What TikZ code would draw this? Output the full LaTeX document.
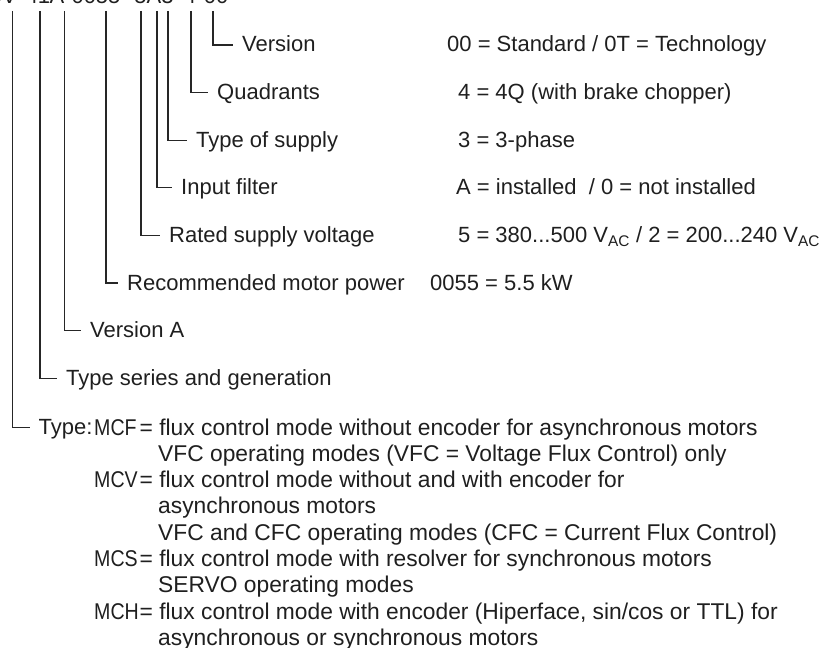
\documentclass[tikz,border=0pt]{standalone}
\usepackage{fontspec}
\setmainfont{Liberation Sans}
\usetikzlibrary{positioning}

\newcommand{\narrow}[1]{\scalebox{0.86}[1]{#1}}

\begin{document}
\begin{tikzpicture}[x=1pt, y=-1pt
    , every node/.style={inner sep=0pt, text=black!88
        , font=\fontsize{22}{26.8}\selectfont}
    , lbl/.style={anchor=west, text height=16pt, text depth=2pt}
    , row/.style={anchor=base west, font=\fontsize{22.8}{26.3}\selectfont}
    , tick/.style={line width=1.1pt, black!85}
    ]
    \useasboundingbox (0,0) rectangle (826,647);

    % The code string, only its lower edge stays on the page
    \node[anchor=base east] (cType) at (17,4) {MCV};
    \node[anchor=base] (cSer) at (38,4) {41};
    \node[anchor=base] (cVerA) at (57,4) {A};
    \node[anchor=base] (cPow) at (96,4) {0055};
    \node[anchor=base] (cSup) at (154,4) {5A3};
    \node[anchor=base] (cQuad) at (190,4) {4};
    \node[anchor=base] (cVer) at (216,4) {00};

    % tops of the hooks
    \coordinate (tType) at (12.5,11);
    \coordinate (tSer) at (40,11);
    \coordinate (tVerA) at (64.5,11);
    \coordinate (tPow) at (106,11);
    \coordinate (tVolt) at (141,11);
    \coordinate (tFilt) at (157,11);
    \coordinate (tSup) at (168,11);
    \coordinate (tQuad) at (191,11);
    \coordinate (tVer) at (213,11);

    %% What each position means
    \node[lbl] (lVer) at (242,45) {Version};
    \node[lbl] (lQuad) at (217,92.6) {Quadrants};
    \node[lbl] (lSup) at (196,140.2) {Type of supply};
    \node[lbl] (lFilt) at (181,187.8) {Input filter};
    \node[lbl] (lVolt) at (169,235.4) {Rated supply voltage};
    \node[lbl] (lPow) at (127,283) {Recommended motor power};
    \node[lbl] (lVerA) at (90,330.6) {Version A};
    \node[lbl] (lSer) at (66,378.2) {Type series and generation};
    \node[lbl] (lType) at (38.5,427.5) {Type:};

    % and the values
    \node[lbl] (vVer) at (447,45) {00 = Standard / 0T = Technology};
    \node[lbl] (vQuad) at (458,92.6) {4 = 4Q (with brake chopper)};
    \node[lbl] (vSup) at (458,140.2) {3 = 3-phase};
    \node[lbl] (vFilt) at (456,187.8) {A = installed \ / 0 = not installed};
    \node[lbl] (vVolt) at (458,235.4)
        {5 = 380...500 V\textsubscript{AC} / 2 = 200...240 V\textsubscript{AC}};
    \node[lbl] (vPow) at (430,283) {0055 = 5.5 kW};

    % Now the hooks
    \foreach \p/\l in {Ver/lVer, Quad/lQuad, Sup/lSup, Filt/lFilt,
        Volt/lVolt, Pow/lPow, VerA/lVerA, Ser/lSer, Type/lType}
        \draw[tick] (t\p) |- ([xshift=-9pt]\l.west);

    %% Type table
    \node[row] (mcf) at (94,435) {\narrow{MCF}};
    \node[row] (mcfA) at (139.5,435) {= flux control mode without encoder for asynchronous motors};
    \node[row] (mcfB) at (158,461.3) {VFC operating modes (VFC = Voltage Flux Control) only};
    \node[row] (mcv) at (94,487.6) {\narrow{MCV}};
    \node[row] (mcvA) at (139.5,487.6) {= flux control mode without and with encoder for};
    \node[row] (mcvB) at (158,513.9) {asynchronous motors};
    \node[row] (mcvC) at (158,540.2) {VFC and CFC operating modes (CFC = Current Flux Control)};
    \node[row] (mcs) at (94,566.5) {\narrow{MCS}};
    \node[row] (mcsA) at (139.5,566.5) {= flux control mode with resolver for synchronous motors};
    \node[row] (mcsB) at (158,592.8) {SERVO operating modes};
    \node[row] (mch) at (94,619.1) {\narrow{MCH}};
    \node[row] (mchA) at (139.5,619.1) {= flux control mode with encoder (Hiperface, sin/cos or TTL) for};
    \node[row] (mchB) at (158,645.4) {asynchronous or synchronous motors};
\end{tikzpicture}
\end{document}
